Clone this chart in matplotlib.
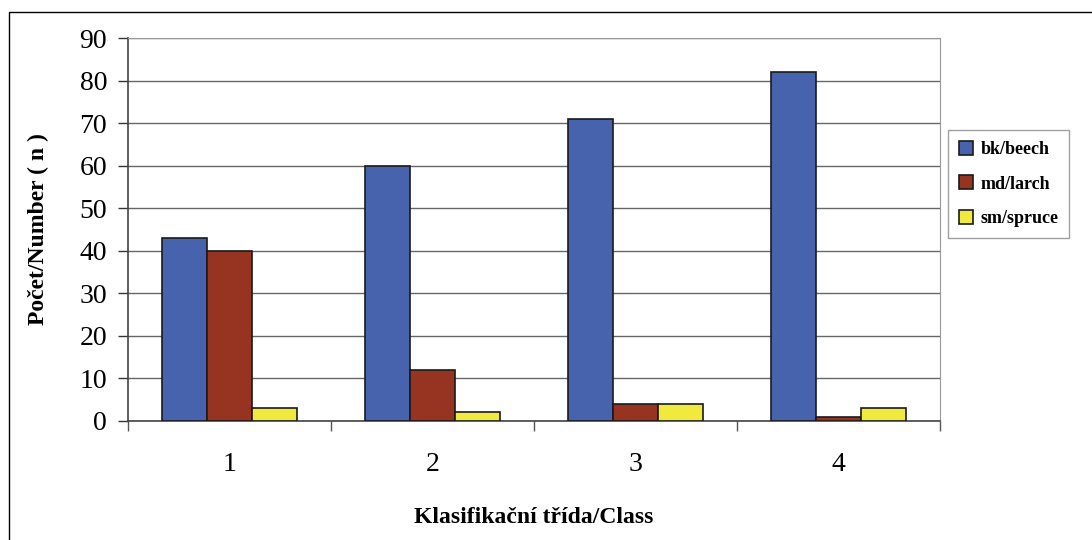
import numpy as np
import matplotlib
matplotlib.use("Agg")
import matplotlib.pyplot as plt
from matplotlib.patches import Rectangle

classes = ["1", "2", "3", "4"]
species = ["bk/beech", "md/larch", "sm/spruce"]
beech = [43, 60, 71, 82]
larch = [40, 12, 4, 1]
spruce = [3, 2, 4, 3]
colors = ["#4763AE", "#963421", "#F0EA3E"]

plt.rcParams["font.family"] = ["Liberation Serif", "DejaVu Serif"]

fig = plt.figure(figsize=(10.92, 5.4), dpi=100)
ax = fig.add_axes([128 / 1092, 1 - 421 / 540, 812 / 1092, 383 / 540])

x = np.arange(len(classes))
w = 0.222
for i, (vals, c, name) in enumerate(zip([beech, larch, spruce], colors, species)):
    ax.bar(x + (i - 1) * w, vals, width=w, color=c, edgecolor="#1a1a1a",
           linewidth=1.2, label=name, zorder=3)

ax.set_xlim(-0.5, 3.5)
ax.set_ylim(0, 90)
ax.set_yticks(range(0, 91, 10))
ax.set_xticks(x)
ax.set_xticklabels(classes)
ax.set_xticks(np.arange(-0.5, 3.6, 1), minor=True)
ax.tick_params(axis="x", which="major", length=0, labelsize=20, pad=22)
ax.tick_params(axis="x", which="minor", length=7, width=1, color="#555555", direction="out")
ax.tick_params(axis="y", length=7, width=1, labelsize=20, pad=8, direction="out", color="#333333")
ax.yaxis.grid(True, color="#666666", linewidth=1, zorder=0)

for s in ["top", "right"]:
    ax.spines[s].set_color("#999999")
for s in ["left", "bottom"]:
    ax.spines[s].set_color("#444444")
    ax.spines[s].set_linewidth(1.2)

ax.set_ylabel("Počet/Number ( n )", fontsize=17, fontweight="bold", labelpad=22)
ax.set_xlabel("Klasifikační třída/Class", fontsize=17, fontweight="bold", labelpad=22)

leg = ax.legend(loc="center left", bbox_to_anchor=(948 / 1092, 1 - 184 / 540),
                bbox_transform=fig.transFigure, borderaxespad=0, frameon=True,
                fancybox=False, prop={"weight": "bold", "size": 13}, handlelength=0.8,
                handleheight=0.8, labelspacing=0.95, borderpad=0.6, handletextpad=0.4)
leg.get_frame().set_edgecolor("#888888")
leg.get_frame().set_linewidth(1)
for h in leg.legend_handles:
    h.set_edgecolor("#1a1a1a")

fig.patches.append(Rectangle((9 / 1092, -0.01), 1.1, 1 - 12 / 540 + 0.01,
                             transform=fig.transFigure, fill=False,
                             edgecolor="black", linewidth=1))

fig.savefig("out.png", dpi=100)
